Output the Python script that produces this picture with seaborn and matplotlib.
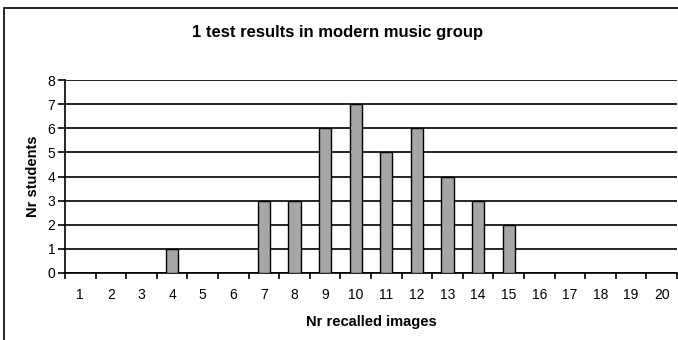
import matplotlib
matplotlib.use("Agg")
import matplotlib.pyplot as plt
from matplotlib.patches import Rectangle
import seaborn as sns
import pandas as pd

recalled = [str(i) for i in range(1, 21)]
students = [0, 0, 0, 1, 0, 0, 3, 3, 6, 7, 5, 6, 4, 3, 2, 0, 0, 0, 0, 0]
y_ticks = list(range(0, 9))

sns.set_theme(style="white")
plt.rcParams["font.family"] = ["Liberation Sans", "DejaVu Sans"]

df = pd.DataFrame({"recalled": recalled, "students": students})

fig = plt.figure(figsize=(6.78, 3.4), dpi=100)
ax = fig.add_axes([65 / 678, 1 - 273 / 340, 612 / 678, 193 / 340])

sns.barplot(data=df, x="recalled", y="students", order=recalled,
            color="#a6a6a6", saturation=1, width=0.4,
            edgecolor="black", linewidth=1.0, ax=ax, zorder=3)

ax.set_ylim(0, 8)
ax.set_xlim(-0.5, len(recalled) - 0.5)
ax.set_yticks(y_ticks)
ax.yaxis.grid(True, color="black", linewidth=1.2)
ax.set_axisbelow(True)

for side in ("top", "right"):
    ax.spines[side].set_visible(False)
for side in ("left", "bottom"):
    ax.spines[side].set_color("black")
    ax.spines[side].set_linewidth(1.2)

# category labels centred, tick marks on category boundaries
ax.set_xticks(range(len(recalled)))
ax.set_xticklabels(recalled)
ax.set_xticks([i - 0.5 for i in range(len(recalled) + 1)], minor=True)
ax.tick_params(axis="x", which="major", length=0, pad=11, labelsize=10, colors="black")
ax.tick_params(axis="x", which="minor", length=4, width=1.2, color="black", direction="out", bottom=True)
ax.tick_params(axis="y", which="major", length=5, width=1.2, color="black", direction="out",
               left=True, pad=2, labelsize=10, labelcolor="black")

ax.set_xlabel("Nr recalled images", fontsize=10.5, fontweight="bold", color="black", labelpad=9)
ax.set_ylabel("Nr students", fontsize=10.5, fontweight="bold", color="black", labelpad=5)

fig.text(338 / 678, 1 - 33 / 340, "1 test results in modern music group",
         ha="center", va="center", fontsize=12, fontweight="bold", color="black")

# outer chart frame
fig.patches.append(Rectangle((4 / 678, -0.2), 2.0, 1.2 - 8 / 340, transform=fig.transFigure,
                             fill=False, edgecolor="black", linewidth=1.2))

fig.savefig("out.png", dpi=100)
